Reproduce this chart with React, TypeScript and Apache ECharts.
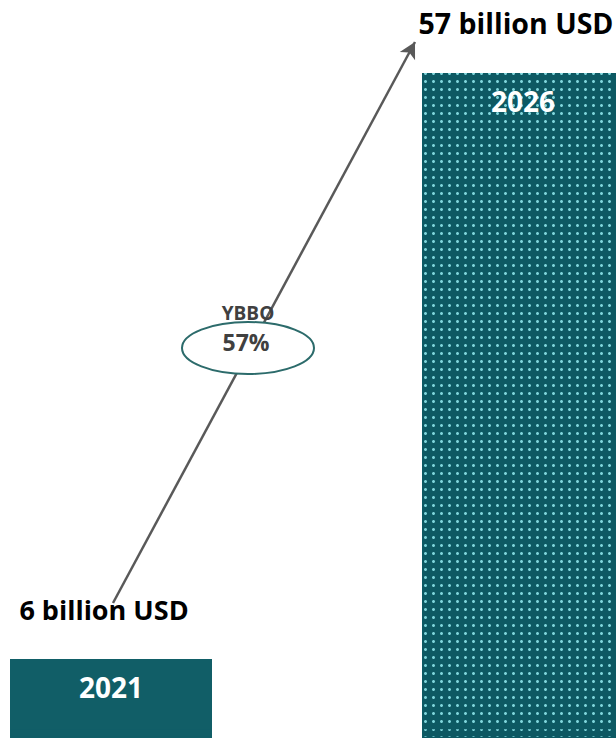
import React, { useEffect, useRef } from "react";
import * as echarts from "echarts";

const years = ["2021", "2026"];
const marketValues = [6, 57];
const valueLabels = ["6 billion USD", "57 billion USD"];
const valueLabelSizes = [27, 28.5];
const baseFill = [-0.87, -0.87];
const growthTitle = "YBBO";
const growthRate = "57%";

const TEAL = "#115e67";
const TEAL_DARK = "#0d5963";
const FONT = "'Open Sans', sans-serif";

const dotDecal = {
  symbol: "circle",
  symbolSize: 1,
  symbolKeepAspect: true,
  color: "#7fd6dc",
  backgroundColor: null,
  dashArrayX: [2.2, 4.8],
  dashArrayY: [2.2, 4.6],
  rotation: 0,
};

export default function App() {
  const ref = useRef<HTMLDivElement>(null);
  useEffect(() => {
    document.body.style.margin = "0";
    const chart = echarts.init(ref.current!, null, { renderer: "svg" });
    const itemFor = (i: number, v: number, bw: number) => ({
      value: v,
      itemStyle:
        i === 1
          ? { color: TEAL_DARK, decal: dotDecal, borderColor: TEAL_DARK, borderWidth: bw }
          : { color: TEAL, borderColor: TEAL, borderWidth: bw },
    });
    chart.setOption({
      animation: false,
      backgroundColor: "#ffffff",
      grid: { left: 111, right: 93, top: 73, bottom: 0, containLabel: false },
      xAxis: {
        type: "category",
        data: years,
        boundaryGap: false,
        show: false,
      },
      yAxis: {
        type: "value",
        min: -0.87,
        max: 57,
        show: false,
      },
      series: [
        {
          type: "bar",
          name: "Market",
          stack: "m",
          barWidth: 202,
          clip: false,
          data: marketValues.map((v, i) => itemFor(i, v, 0)),
          label: {
            show: true,
            position: "insideTop",
            distance: 14,
            formatter: (p: any) => years[p.dataIndex],
            color: "#ffffff",
            fontFamily: FONT,
            fontWeight: "bold",
            fontSize: 28,
          },
          markLine: {
            silent: true,
            symbol: ["none", "arrow"],
            symbolSize: [13, 16],
            label: { show: false },
            lineStyle: { color: "#595959", width: 2.5, type: "solid" },
            data: [[{ x: 113, y: 603 }, { x: 415, y: 42 }]],
          },
        },
        {
          type: "bar",
          name: "Base",
          stack: "m",
          barWidth: 202,
          clip: false,
          data: baseFill.map((v, i) => itemFor(i, v, 1.2)),
        },
        {
          type: "bar",
          name: "Value",
          barWidth: 202,
          barGap: "-100%",
          clip: false,
          z: 5,
          itemStyle: { color: "transparent" },
          data: marketValues.map((v, i) => ({
            value: v,
            label: { fontSize: valueLabelSizes[i] },
          })),
          label: {
            show: true,
            position: "top",
            distance: 36,
            offset: [-7, 0],
            formatter: (p: any) => valueLabels[p.dataIndex],
            color: "#000000",
            fontFamily: FONT,
            fontWeight: "bold",
            fontSize: 27,
          },
        },
      ],
      graphic: [
        {
          type: "ellipse",
          shape: { cx: 248, cy: 348, rx: 66, ry: 26 },
          style: { fill: "#ffffff", stroke: "#2c6b6b", lineWidth: 2 },
          z: 100,
        },
        {
          type: "text",
          x: 248,
          y: 313,
          z: 101,
          style: {
            text: growthTitle,
            fill: "#404040",
            font: "bold 19px 'Open Sans', sans-serif",
            align: "center",
            verticalAlign: "middle",
          },
        },
        {
          type: "text",
          x: 246,
          y: 342,
          z: 101,
          style: {
            text: growthRate,
            fill: "#404040",
            font: "bold 23px 'Open Sans', sans-serif",
            align: "center",
            verticalAlign: "middle",
          },
        },
      ],
    });
    return () => chart.dispose();
  }, []);
  return <div ref={ref} style={{ width: 616, height: 738 }} />;
}
